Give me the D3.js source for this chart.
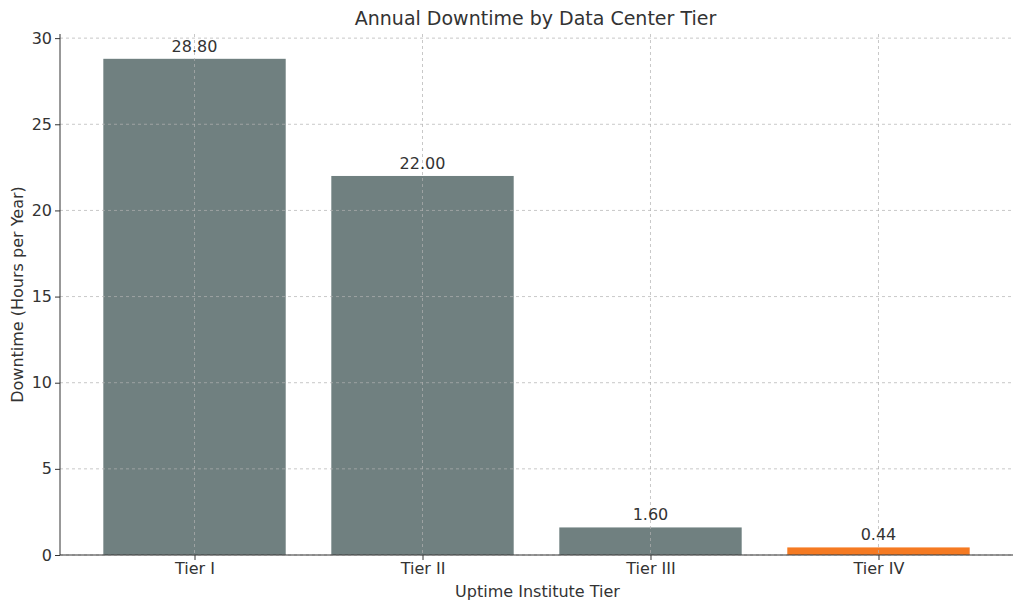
<!DOCTYPE html>
<html>
<head>
<meta charset="utf-8">
<script src="https://cdn.jsdelivr.net/npm/d3@7"></script>
<style>
  body { margin: 0; background: #fff; }
  text { font-family: "DejaVu Sans", sans-serif; fill: #333; }
</style>
</head>
<body>
<div id="chart"></div>
<script>
// Annual downtime per Uptime Institute tier
const tiers = ['Tier I', 'Tier II', 'Tier III', 'Tier IV'];
const downtime = [28.80, 22.00, 1.60, 0.44];
const barColors = ['#708080', '#708080', '#708080', '#f57a22'];
const yTicks = [0, 5, 10, 15, 20, 25, 30];

const width = 1024, height = 611;
const plotLeft = 60, plotRight = 1013, plotTop = 34, plotBottom = 555;

const svg = d3.select('#chart').append('svg')
    .attr('width', width)
    .attr('height', height);

// matplotlib-style positional x scale with 5% margins
const xScale = d3.scaleLinear().domain([-0.59, 3.59]).range([plotLeft, plotRight]);
const yScale = d3.scaleLinear().domain([0, 30.24]).range([plotBottom, plotTop]);
const barW = xScale(0.4) - xScale(-0.4);

// Bars
svg.append('g').selectAll('rect')
    .data(downtime)
    .join('rect')
    .attr('x', (d, i) => xScale(i) - barW / 2)
    .attr('width', barW)
    .attr('y', d => yScale(d))
    .attr('height', d => plotBottom - yScale(d))
    .attr('fill', (d, i) => barColors[i]);

// Grid, drawn over bars like the reference
svg.append('g').selectAll('line')
    .data(yTicks)
    .join('line')
    .attr('x1', plotLeft).attr('x2', plotRight)
    .attr('y1', d => yScale(d)).attr('y2', d => yScale(d))
    .attr('stroke', '#b0b0b0').attr('stroke-opacity', 0.7)
    .attr('stroke-dasharray', '3,3');

svg.append('g').selectAll('line')
    .data(tiers)
    .join('line')
    .attr('x1', (d, i) => xScale(i)).attr('x2', (d, i) => xScale(i))
    .attr('y1', plotTop).attr('y2', plotBottom)
    .attr('stroke', '#b0b0b0').attr('stroke-opacity', 0.7)
    .attr('stroke-dasharray', '3,3');

// Value labels
svg.append('g').selectAll('text')
    .data(downtime)
    .join('text')
    .attr('x', (d, i) => xScale(i))
    .attr('y', d => yScale(d) - 7)
    .attr('text-anchor', 'middle')
    .style('font-size', '16px')
    .text(d => d.toFixed(2));

// Axes
const xAxis = d3.axisBottom(xScale)
    .tickValues(d3.range(tiers.length))
    .tickFormat(i => tiers[i])
    .tickSize(5).tickSizeOuter(0);
const yAxis = d3.axisLeft(yScale)
    .tickValues(yTicks)
    .tickSize(5).tickSizeOuter(0);

const gx = svg.append('g')
    .attr('transform', `translate(0,${plotBottom})`)
    .call(xAxis);
gx.select('.domain').attr('d', `M${plotLeft},0H${plotRight}`);
gx.selectAll('text').style('font-size', '16px');

const gy = svg.append('g')
    .attr('transform', `translate(${plotLeft},0)`)
    .call(yAxis);
gy.select('.domain').attr('d', `M0,${plotBottom}V${plotTop}`);
gy.selectAll('text').style('font-size', '16px');

svg.selectAll('.domain, .tick line').attr('stroke', '#333');
svg.selectAll('.tick text').style('fill', '#333');

// Titles
svg.append('text')
    .attr('x', (plotLeft + plotRight) / 2 - 1).attr('y', 25)
    .attr('text-anchor', 'middle')
    .style('font-size', '19px')
    .text('Annual Downtime by Data Center Tier');

svg.append('text')
    .attr('x', (plotLeft + plotRight) / 2 + 1).attr('y', 597)
    .attr('text-anchor', 'middle')
    .style('font-size', '16px')
    .text('Uptime Institute Tier');

svg.append('text')
    .attr('transform', 'rotate(-90)')
    .attr('x', -(plotTop + plotBottom) / 2).attr('y', 23)
    .attr('text-anchor', 'middle')
    .style('font-size', '16px')
    .text('Downtime (Hours per Year)');
</script>
</body>
</html>
